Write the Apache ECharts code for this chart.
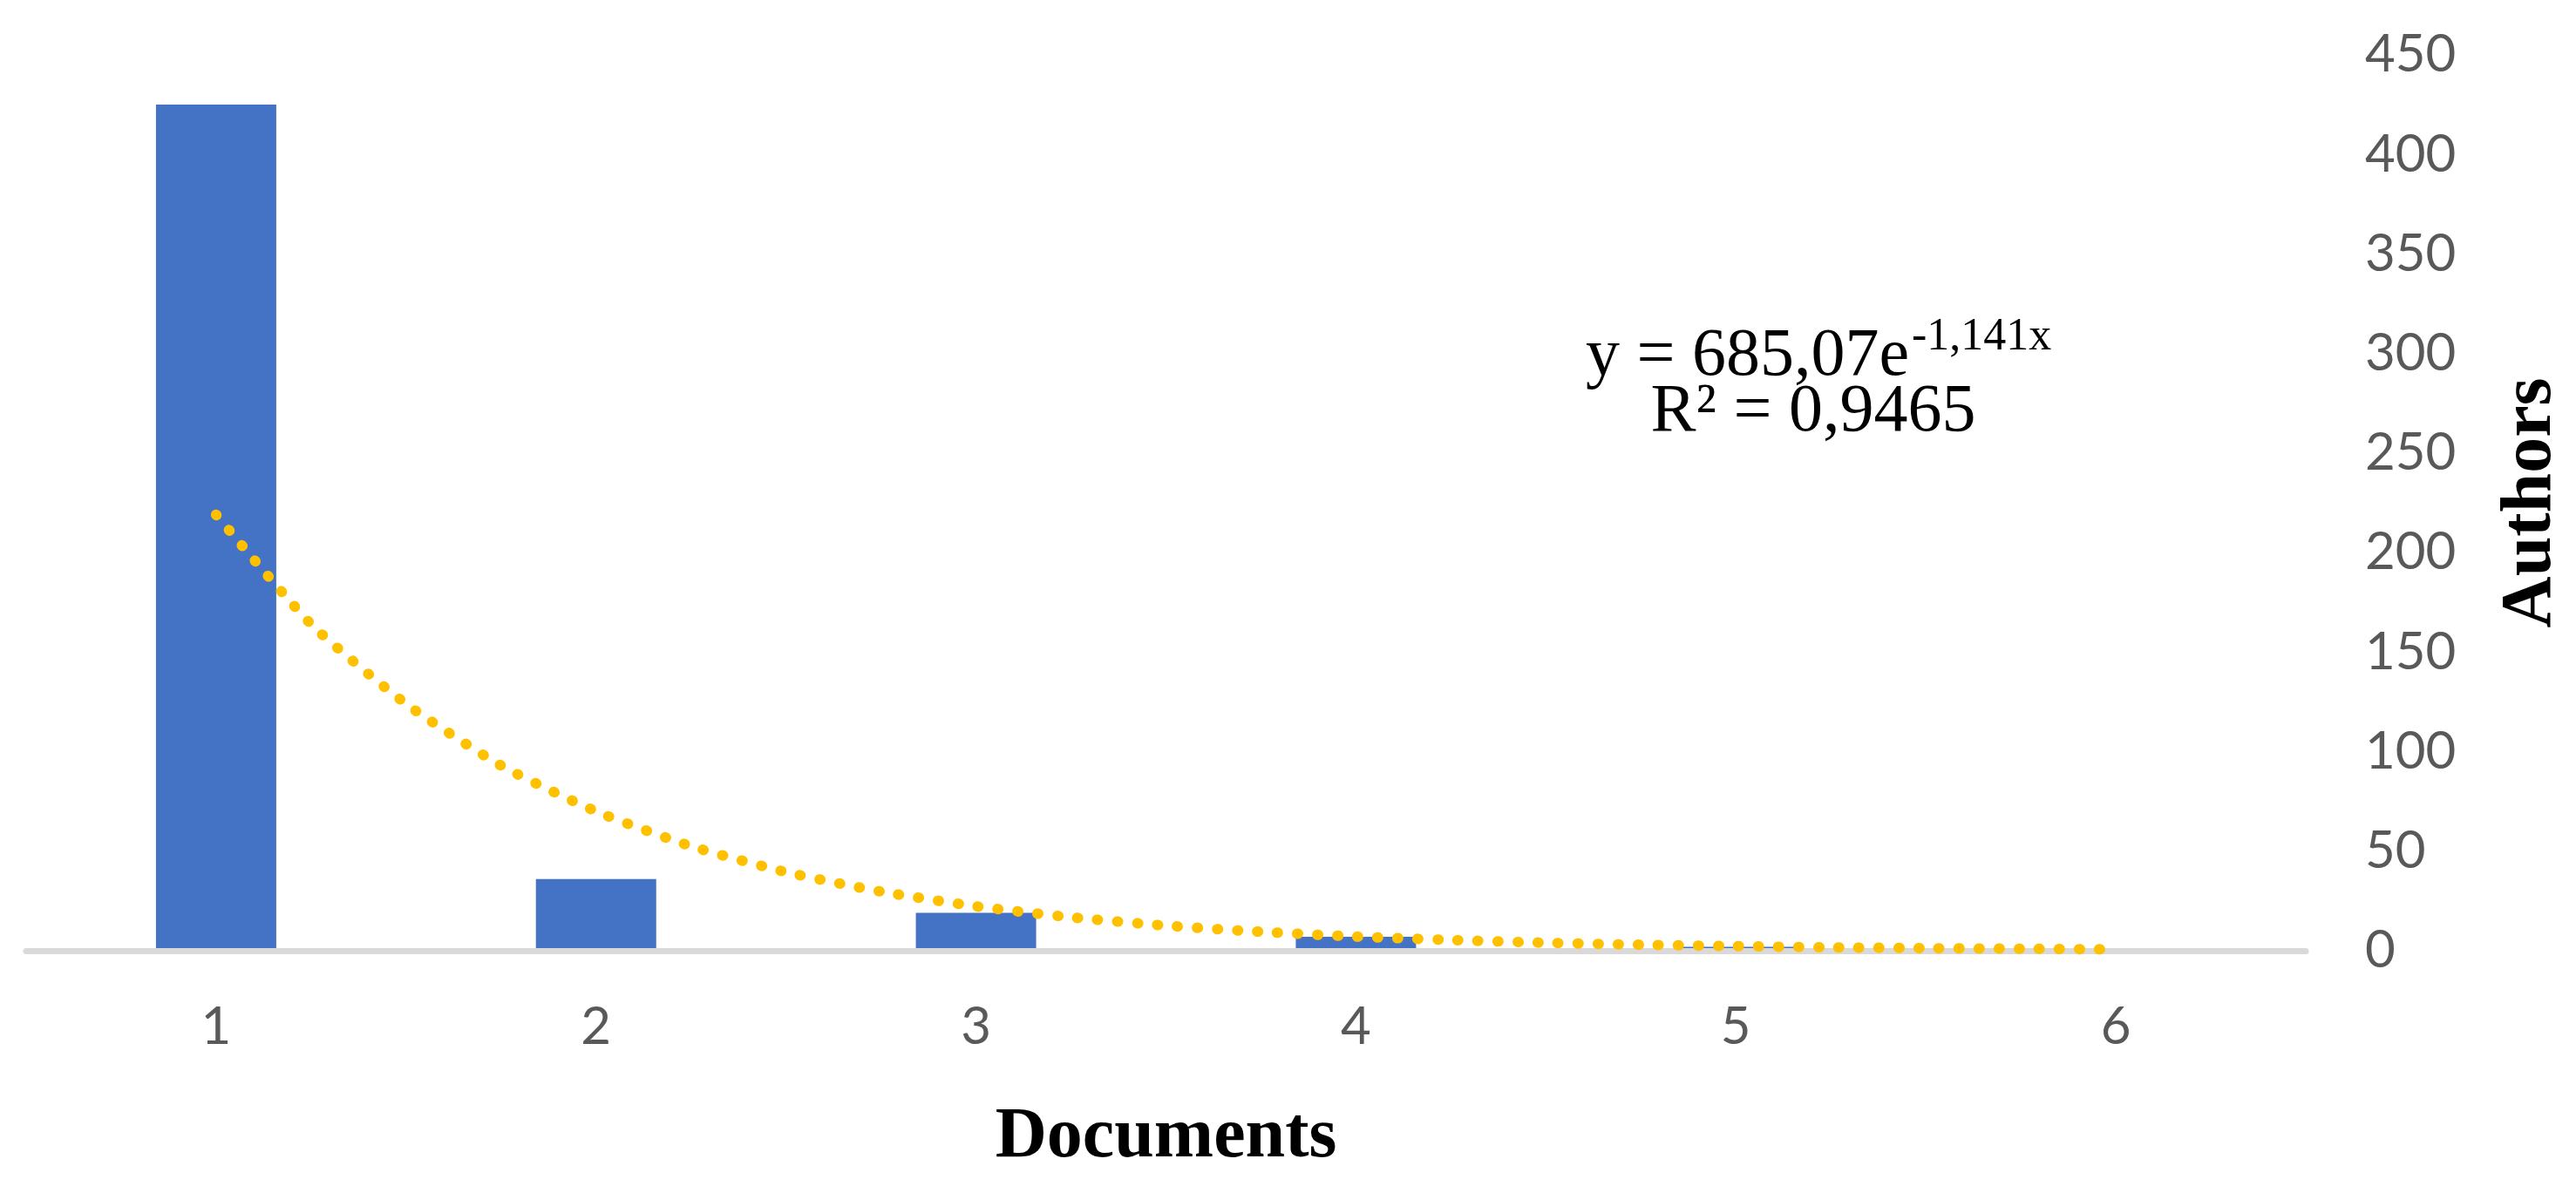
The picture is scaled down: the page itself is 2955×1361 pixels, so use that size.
<!DOCTYPE html>
<html><head><meta charset="utf-8">
<script src="https://cdn.jsdelivr.net/npm/echarts@6/dist/echarts.min.js"></script>
<style>html,body{margin:0;padding:0;background:#fff}#c{width:2955px;height:1361px}</style>
</head><body><div id="c"></div>
<script>
// Data
const categories = ['1', '2', '3', '4', '5', '6'];
const authors = [425, 36, 19, 7, 2, 1];
// Dotted exponential trend line at quarter-category steps
const trendX = [1, 1.25, 1.5, 1.75, 2, 2.25, 2.5, 2.75, 3, 3.25, 3.5, 3.75, 4, 4.25, 4.5, 4.75, 5, 5.25, 5.5, 5.75, 6];
const trendY = [219, 164, 124, 93, 70, 52.5, 39.5, 29.7, 22.3, 16.8, 12.6, 9.5, 7.1, 5.4, 4.0, 3.0, 2.3, 1.7, 1.3, 1.0, 0.7];
const yMin = 0, yMax = 450, yStep = 50;
const eqMain = 'y = 685,07e';
const eqSup = '-1,141x';
const eqR2 = 'R² = 0,9465';
const xTitle = 'Documents';
const yTitle = 'Authors';

const chart = echarts.init(document.getElementById('c'), null, {renderer: 'canvas'});
const serif = 'Liberation Serif';
const option = {
  animation: false,
  backgroundColor: '#ffffff',
  grid: {left: 30, right: 310, top: 63, bottom: 270},
  xAxis: [
    {
      type: 'category', data: categories, z: 3,
      axisLine: {lineStyle: {color: '#D9D9D9', width: 7}},
      axisTick: {show: false},
      axisLabel: {color: '#595959', fontFamily: 'Lato', fontSize: 60, margin: 58},
      name: xTitle, nameLocation: 'middle', nameGap: 174,
      nameTextStyle: {fontFamily: serif, fontWeight: 'bold', fontSize: 82, color: '#000'}
    },
    {type: 'value', min: 0.5, max: 6.5, show: false}
  ],
  yAxis: {
    type: 'value', position: 'right', min: yMin, max: yMax, interval: yStep,
    splitLine: {show: false}, axisLine: {show: false}, axisTick: {show: false},
    axisLabel: {color: '#595959', fontFamily: 'Lato', fontSize: 60, margin: 68, align: 'left'},
    name: yTitle, nameLocation: 'middle', nameRotate: 90, nameGap: 218,
    nameTextStyle: {fontFamily: serif, fontWeight: 'bold', fontSize: 82, color: '#000'}
  },
  series: [
    {type: 'bar', data: authors, barWidth: 138, itemStyle: {color: '#4472C4'}, z: 2},
    {
      type: 'line', xAxisIndex: 1, z: 5, smooth: 0.2, symbol: 'none',
      data: trendX.map((x, i) => [x, trendY[i]]),
      lineStyle: {color: '#FFC000', width: 12, type: [1, 22], cap: 'round'}
    }
  ],
  graphic: [
    {type: 'text', x: 2190, y: 410, z: 10,
     style: {text: eqMain, font: '78px "Liberation Serif"', fill: '#000', align: 'right', verticalAlign: 'middle'}},
    {type: 'text', x: 2193, y: 387, z: 10,
     style: {text: eqSup, font: '52px "Liberation Serif"', fill: '#000', align: 'left', verticalAlign: 'middle'}},
    {type: 'text', x: 2080, y: 474, z: 10,
     style: {text: eqR2, font: '78px "Liberation Serif"', fill: '#000', align: 'center', verticalAlign: 'middle'}}
  ]
};
chart.setOption(option);
</script></body></html>
